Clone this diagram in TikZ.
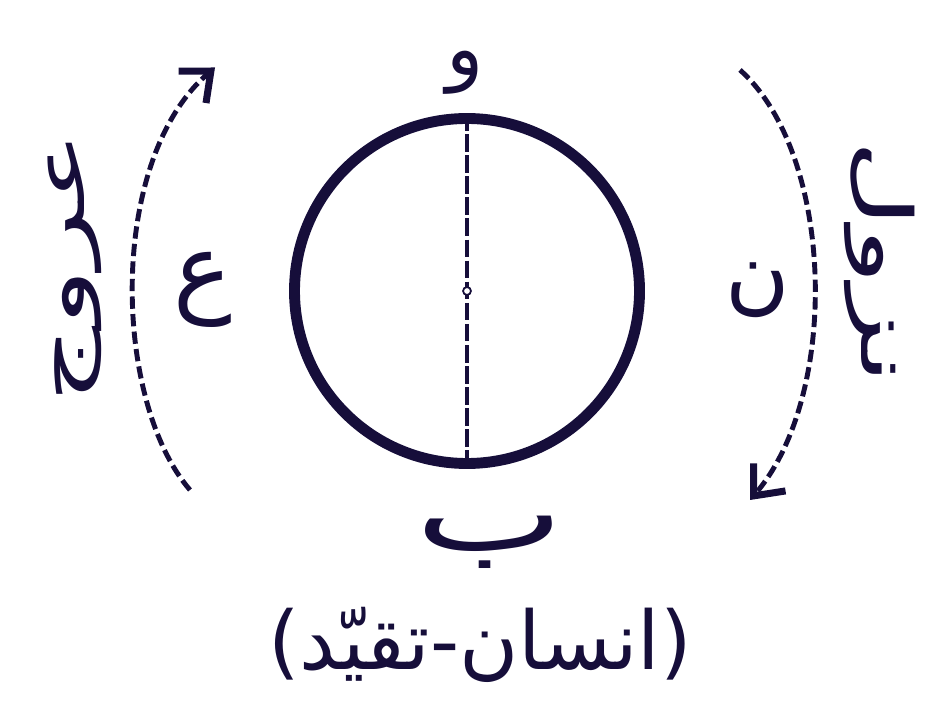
\documentclass[tikz,border=0pt]{standalone}
\usepackage{fontspec}
\usepackage{tikz}
\usetikzlibrary{arrows.meta, positioning, shapes.geometric}
\TeXXeTstate=1
\newfontfamily\arabicfont[Script=Arabic]{DejaVu Sans}
\definecolor{InkNavy}{RGB}{22, 14, 58}
\tikzset{
  disc/.style={circle, draw=InkNavy, line width=6.2pt, minimum size=6.9cm,
    inner sep=0pt},
  diam/.style={draw=InkNavy, line width=2.2pt, dash pattern=on 10pt off 2pt},
  hub/.style={circle, draw=InkNavy, line width=1pt, fill=white,
    minimum size=4.5pt, inner sep=0pt},
  lbl/.style={text=InkNavy, font=\arabicfont\fontsize{44}{52}\selectfont},
  side/.style={text=InkNavy, font=\arabicfont\fontsize{40}{46}\selectfont},
  flow/.style={-{Straight Barb[length=14pt, width=24pt, line width=4pt]},
    draw=InkNavy, line width=2.8pt, dash pattern=on 7pt off 3pt},
}
\begin{document}
\begin{tikzpicture}
  \useasboundingbox (0,0) rectangle (18.74,14);
  % circle with its diameter
  \node[disc] (ring) at (9.34,8.18) {};
  \draw[diam] (ring.north) -- (ring.south);
  \node[hub] (mid) at (ring.center) {};
  % point labels
  \node[lbl] (topv) at (9.3,12.55) {\beginR و\endR};
  \node[lbl, font=\arabicfont\fontsize{60}{66}\selectfont] (botb)
    at (9.8,3.15) {\scalebox{1.5}[1]{\beginR ب\endR}};
  \node[lbl, font=\arabicfont\fontsize{46}{52}\selectfont] (title)
    at (9.6,1.1) {\beginR(انسان-تقیّد)\endR};
  \node[lbl, font=\arabicfont\fontsize{56}{62}\selectfont] (ain)
    at (4.05,8.2) {\beginR ع\endR};
  \node[lbl, font=\arabicfont\fontsize{50}{56}\selectfont] (noon)
    at (15.15,8.2) {\beginR ن\endR};
  % ascent and descent
  \coordinate (upfrom) at (3.8,4.2);
  \coordinate (upto)   at (4.3,12.65);
  \coordinate (dnfrom) at (14.8,12.6);
  \coordinate (dnto)   at (15.0,4.0);
  \draw[flow] (upfrom) .. controls (2.25,6.0) and (2.15,10.8) .. (upto);
  \draw[flow] (dnfrom) .. controls (16.7,10.9) and (16.8,6.1) .. (dnto);
  \node[side, rotate=90] (rise) at (1.5,8.65)
    {\scalebox{1.7}[1]{\beginR عروج\endR}};
  \node[side, rotate=-90] (fall) at (17.6,8.75)
    {\scalebox{1.7}[1]{\beginR نزول\endR}};
\end{tikzpicture}
\end{document}
